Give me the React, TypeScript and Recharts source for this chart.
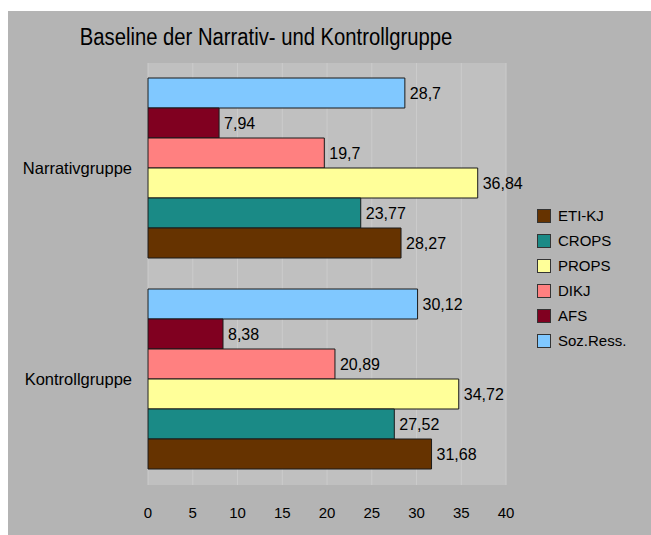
import React from "react";
import {
    BarChart,
    Bar,
    XAxis,
    YAxis,
    CartesianGrid,
    LabelList
} from "recharts";

const gruppen = ["Narrativgruppe", "Kontrollgruppe"];

// values per scale, in group order
const sozRess = [28.7, 30.12];
const afs = [7.94, 8.38];
const dikj = [19.7, 20.89];
const props = [36.84, 34.72];
const crops = [23.77, 27.52];
const etiKj = [28.27, 31.68];

const xTicks = [0, 5, 10, 15, 20, 25, 30, 35, 40];

// drawn top to bottom inside each group
const serien = [
    { key: "sozRess", name: "Soz.Ress.", color: "#80c8ff", values: sozRess },
    { key: "afs", name: "AFS", color: "#800020", values: afs },
    { key: "dikj", name: "DIKJ", color: "#ff8080", values: dikj },
    { key: "props", name: "PROPS", color: "#ffff99", values: props },
    { key: "crops", name: "CROPS", color: "#1a8a86", values: crops },
    { key: "etiKj", name: "ETI-KJ", color: "#663300", values: etiKj }
];

const dados = gruppen.map((g, i) => {
    const row: Record<string, string | number> = { name: g };
    serien.forEach(s => {
        row[s.key] = s.values[i];
    });
    return row;
});

const font = "'Liberation Sans', Arial, sans-serif";

const komma = (v: any) => String(v).replace(".", ",");

export default function App() {

    return (
        <div
            style={{
                position: "fixed",
                left: 8,
                top: 11,
                right: -40,
                bottom: -40,
                background: "#b4b4b4",
                fontFamily: font
            }}
        >

            <div
                style={{
                    position: "absolute",
                    left: 0,
                    width: 516,
                    top: 13,
                    textAlign: "center",
                    fontSize: 23,
                    color: "#000",
                    transform: "scaleX(0.88)"
                }}
            >
                Baseline der Narrativ- und Kontrollgruppe
            </div>

            <BarChart
                layout="vertical"
                width={643}
                height={524}
                data={dados}
                margin={{ top: 52, right: 145, bottom: 0, left: 0 }}
                barCategoryGap={15}
                barGap={0}
            >

                <CartesianGrid
                    horizontal={false}
                    fill="#c0c0c0"
                    stroke="#cbcbcb"
                />

                <XAxis
                    type="number"
                    domain={[0, 40]}
                    ticks={xTicks}
                    axisLine={false}
                    tickLine={false}
                    tickSize={0}
                    tickMargin={22}
                    height={50}
                    tick={{ fill: "#000", fontSize: 15, fontFamily: font }}
                />

                <YAxis
                    type="category"
                    dataKey="name"
                    width={140}
                    axisLine={false}
                    tickLine={false}
                    tickSize={0}
                    tickMargin={16}
                    tick={{ fill: "#000", fontSize: 16.5, fontFamily: font }}
                />

                {serien.map(s => (
                    <Bar
                        key={s.key}
                        dataKey={s.key}
                        name={s.name}
                        fill={s.color}
                        stroke="#1a1a1a"
                        strokeWidth={1}
                        isAnimationActive={false}
                    >
                        <LabelList
                            dataKey={s.key}
                            position="right"
                            offset={5}
                            formatter={komma}
                            fill="#000"
                            fontSize={16}
                            fontFamily={font}
                        />
                    </Bar>
                ))}

            </BarChart>

            <div
                style={{
                    position: "absolute",
                    left: 529,
                    top: 192
                }}
            >
                {[...serien].reverse().map(s => (
                    <div
                        key={s.key}
                        style={{
                            display: "flex",
                            alignItems: "center",
                            height: 25,
                            fontSize: 15,
                            color: "#000"
                        }}
                    >
                        <span
                            style={{
                                display: "inline-block",
                                width: 12,
                                height: 12,
                                background: s.color,
                                border: "1px solid #333",
                                marginRight: 7
                            }}
                        />
                        {s.name}
                    </div>
                ))}
            </div>

        </div>
    );
}
